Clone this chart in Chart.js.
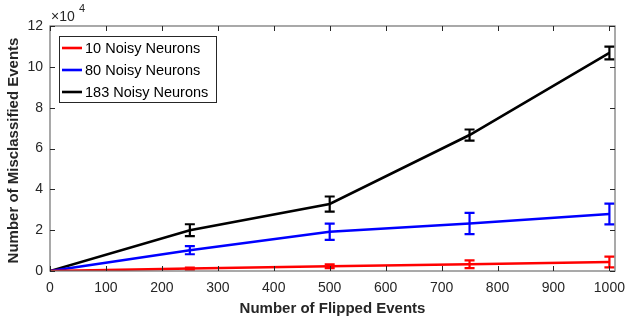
<!DOCTYPE html>
<html>
<head>
<meta charset="utf-8">
<script src="https://cdn.jsdelivr.net/npm/chart.js@4.4.0/dist/chart.umd.min.js"></script>
<style>
html,body{margin:0;padding:0;background:#fff;}
#wrap{width:627px;height:318px;}
</style>
</head>
<body>
<div id="wrap"><canvas id="c" width="627" height="318"></canvas></div>
<script>
const flipped = [0, 250, 500, 750, 1000];
const seriesLabels = ['10 Noisy Neurons', '80 Noisy Neurons', '183 Noisy Neurons'];
const seriesColors = ['#ff0000', '#0000ff', '#000000'];
const noisy10 = [0, 1200, 2300, 3300, 4400];
const noisy10Err = [0, 500, 900, 1900, 2600];
const noisy80 = [0, 10200, 19200, 23300, 27900];
const noisy80Err = [0, 2000, 4000, 5200, 5100];
const noisy183 = [0, 20000, 32800, 66600, 106800];
const noisy183Err = [0, 2900, 3700, 2700, 3100];
const xTicks = [0, 100, 200, 300, 400, 500, 600, 700, 800, 900, 1000];
const yTicks = [0, 20000, 40000, 60000, 80000, 100000, 120000];
const yTickLabels = ['0', '2', '4', '6', '8', '10', '12'];
const xTitle = 'Number of Flipped Events';
const yTitle = 'Number of Misclassified Events';

const values = [noisy10, noisy80, noisy183];
const errors = [noisy10Err, noisy80Err, noisy183Err];

const FONT = '"Liberation Sans", Arial, Helvetica, sans-serif';
const TXT = '#262626';

const datasets = values.map((v, i) => ({
  label: seriesLabels[i],
  data: flipped.map((x, j) => ({x: x, y: v[j]})),
  errs: errors[i],
  borderColor: seriesColors[i],
  backgroundColor: seriesColors[i],
  borderWidth: 2.6,
  pointRadius: 0,
  tension: 0,
  fill: false
}));

const decor = {
  id: 'decor',
  afterDatasetsDraw(chart) {
    const ctx = chart.ctx;
    const xs = chart.scales.x, ys = chart.scales.y;
    const a = chart.chartArea;
    ctx.save();
    // error bars
    chart.data.datasets.forEach(ds => {
      ctx.strokeStyle = ds.borderColor;
      ctx.lineWidth = 2.2;
      ds.data.forEach((p, j) => {
        const e = ds.errs[j];
        if (!e) return;
        const px = xs.getPixelForValue(p.x);
        const y1 = ys.getPixelForValue(p.y + e);
        const y2 = ys.getPixelForValue(p.y - e);
        const w = 5;
        ctx.beginPath();
        ctx.moveTo(px, y1); ctx.lineTo(px, y2);
        ctx.moveTo(px - w, y1); ctx.lineTo(px + w, y1);
        ctx.moveTo(px - w, y2); ctx.lineTo(px + w, y2);
        ctx.stroke();
      });
    });
    // box
    ctx.strokeStyle = '#707070';
    ctx.lineWidth = 1.2;
    ctx.strokeRect(a.left, a.top, a.right - a.left, a.bottom - a.top);
    // ticks
    ctx.strokeStyle = '#262626';
    ctx.lineWidth = 1;
    const tl = 5;
    ctx.beginPath();
    xTicks.forEach(v => {
      const px = Math.round(xs.getPixelForValue(v)) + 0.5;
      ctx.moveTo(px, a.bottom); ctx.lineTo(px, a.bottom - tl);
      ctx.moveTo(px, a.top); ctx.lineTo(px, a.top + tl);
    });
    yTicks.forEach(v => {
      const py = Math.round(ys.getPixelForValue(v)) + 0.5;
      ctx.moveTo(a.left, py); ctx.lineTo(a.left + tl, py);
      ctx.moveTo(a.right, py); ctx.lineTo(a.right - tl, py);
    });
    ctx.stroke();
    // tick labels
    ctx.fillStyle = TXT;
    ctx.font = '14px ' + FONT;
    ctx.textAlign = 'center';
    ctx.textBaseline = 'middle';
    xTicks.forEach(v => {
      ctx.fillText(String(v), xs.getPixelForValue(v), a.bottom + 17);
    });
    ctx.textAlign = 'right';
    yTicks.forEach((v, i) => {
      ctx.fillText(yTickLabels[i], a.left - 7, ys.getPixelForValue(v));
    });
    // exponent
    ctx.textAlign = 'left';
    ctx.textBaseline = 'alphabetic';
    ctx.fillText('\u00d710', a.left + 1, a.top - 5);
    ctx.font = '11px ' + FONT;
    ctx.fillText('4', a.left + 29, a.top - 14);
    // axis titles
    ctx.font = 'bold 15px ' + FONT;
    ctx.textAlign = 'center';
    ctx.textBaseline = 'middle';
    ctx.fillText(xTitle, (a.left + a.right) / 2, a.bottom + 38);
    ctx.save();
    ctx.translate(14, (a.top + a.bottom) / 2 + 2);
    ctx.rotate(-Math.PI / 2);
    ctx.fillText(yTitle, 0, 0);
    ctx.restore();
    // legend
    const lx = a.left + 9, ly = a.top + 10, lw = 157, lh = 66;
    ctx.fillStyle = '#ffffff';
    ctx.fillRect(lx, ly, lw, lh);
    ctx.strokeStyle = '#262626';
    ctx.lineWidth = 1;
    ctx.strokeRect(lx + 0.5, ly + 0.5, lw, lh);
    ctx.font = '14.5px ' + FONT;
    ctx.textAlign = 'left';
    chart.data.datasets.forEach((ds, i) => {
      const yy = ly + 12 + i * 22;
      ctx.strokeStyle = ds.borderColor;
      ctx.lineWidth = 2.6;
      ctx.beginPath();
      ctx.moveTo(lx + 3, yy); ctx.lineTo(lx + 23, yy);
      ctx.stroke();
      ctx.fillStyle = '#000';
      ctx.fillText(ds.label, lx + 26, yy + 1);
    });
    ctx.restore();
  }
};

new Chart(document.getElementById('c'), {
  type: 'line',
  data: { datasets: datasets },
  options: {
    responsive: false,
    animation: false,
    layout: { padding: { left: 50, right: 12, top: 26, bottom: 47 } },
    plugins: { legend: { display: false }, tooltip: { enabled: false } },
    scales: {
      x: { type: 'linear', min: 0, max: 1010, display: false },
      y: { type: 'linear', min: 0, max: 120000, display: false }
    }
  },
  plugins: [decor]
});
</script>
</body>
</html>
